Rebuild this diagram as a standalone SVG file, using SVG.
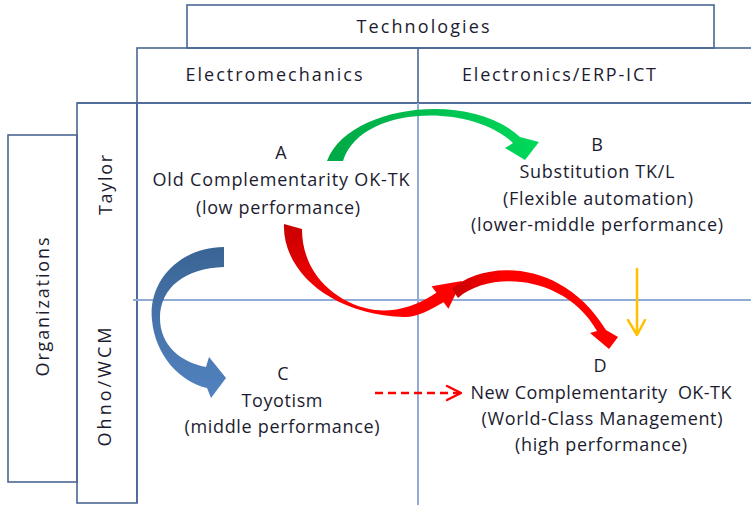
<svg xmlns="http://www.w3.org/2000/svg" width="751" height="505" viewBox="0 0 751 505">
  <style>
    .lbl { font-family: "Open Sans", "Liberation Sans", sans-serif; font-size: 18px; fill: #1c1c30; text-anchor: middle; }
    .box { fill: none; stroke: #4a6694; stroke-width: 1.6; }
    .grid { fill: none; stroke: #8fabd6; stroke-width: 2; }
  </style>
  <defs>
    <linearGradient id="gGreen" x1="0" y1="0" x2="1" y2="0">
      <stop offset="0" stop-color="#00a846"/>
      <stop offset="1" stop-color="#00d95a"/>
    </linearGradient>
    <linearGradient id="gBlue" x1="0" y1="0" x2="0" y2="1">
      <stop offset="0" stop-color="#3a6494"/>
      <stop offset="1" stop-color="#5283c0"/>
    </linearGradient>
    <linearGradient id="gRed1" x1="0" y1="0" x2="1" y2="1">
      <stop offset="0" stop-color="#c80000"/>
      <stop offset="0.6" stop-color="#ff0000"/>
    </linearGradient>
    <linearGradient id="gRed2" x1="0" y1="0" x2="1" y2="0">
      <stop offset="0" stop-color="#c80000"/>
      <stop offset="0.3" stop-color="#ff0000"/>
    </linearGradient>
  </defs>

  <!-- frame: header boxes, row/column boxes and quadrant dividers -->
  <g id="frame">
    <rect class="box" x="187" y="5" width="527" height="43"/>
    <rect class="box" x="137" y="48" width="640" height="55"/>
    <line class="box" x1="418" y1="48" x2="418" y2="103"/>
    <line class="box" x1="77" y1="103" x2="751" y2="103"/>
    <line class="box" x1="137" y1="103" x2="137" y2="503"/>
    <rect class="box" x="77" y="103" width="60" height="400"/>
    <rect class="box" x="8" y="135" width="69" height="347"/>
    <line class="grid" x1="418" y1="103" x2="418" y2="505"/>
    <line class="grid" x1="133" y1="300" x2="751" y2="300"/>
  </g>

  <!-- header labels -->
  <g id="technologies">
    <text class="lbl" x="423" y="33" textLength="133">Technologies</text>
  </g>
  <g id="electromechanics">
    <text class="lbl" x="274" y="81" textLength="177">Electromechanics</text>
  </g>
  <g id="electronics">
    <text class="lbl" x="559" y="81" textLength="194">Electronics/ERP-ICT</text>
  </g>
  <g id="organizations">
    <text class="lbl" transform="translate(43,307) rotate(-90)" x="0" y="6" textLength="139">Organizations</text>
  </g>
  <g id="taylor">
    <text class="lbl" transform="translate(106,185) rotate(-90)" x="0" y="6" textLength="60">Taylor</text>
  </g>
  <g id="ohno">
    <text class="lbl" transform="translate(105,387) rotate(-90)" x="0" y="6" textLength="119">Ohno/WCM</text>
  </g>

  <!-- quadrant nodes -->
  <g id="node-a">
    <text class="lbl" x="281" y="159">A</text>
    <text class="lbl" x="281" y="186" textLength="257">Old Complementarity OK-TK</text>
    <text class="lbl" x="278" y="214" textLength="164">(low performance)</text>
  </g>
  <g id="node-b">
    <text class="lbl" x="597" y="151">B</text>
    <text class="lbl" x="597" y="178" textLength="155">Substitution TK/L</text>
    <text class="lbl" x="598" y="205" textLength="190">(Flexible automation)</text>
    <text class="lbl" x="597" y="231" textLength="252">(lower-middle performance)</text>
  </g>
  <g id="node-c">
    <text class="lbl" x="283" y="380">C</text>
    <text class="lbl" x="282" y="407" textLength="81">Toyotism</text>
    <text class="lbl" x="282" y="433" textLength="195">(middle performance)</text>
  </g>
  <g id="node-d">
    <text class="lbl" x="600" y="372">D</text>
    <text class="lbl" x="601" y="399" textLength="261" xml:space="preserve">New Complementarity  OK-TK</text>
    <text class="lbl" x="602" y="425" textLength="241">(World-Class Management)</text>
    <text class="lbl" x="601" y="451" textLength="172">(high performance)</text>
  </g>

  <!-- connectors -->
  <g id="connectors">
    <!-- A to B -->
    <path fill="url(#gGreen)" d="M343,161 L327,161 C348,105 470,90 520,137 L539,142 L525,160 L505,148 L513,143 C470,102 360,106 343,161 Z"/>
    <!-- A to C -->
    <path fill="url(#gBlue)" d="M224,247 C175,248 148,285 152,320 C155,355 180,382 207,388 L211,398 L226,378 L209,357 L206,367 C180,362 160,345 160,318 C160,288 185,268 224,267 Z"/>
    <!-- A to D, first sweep -->
    <path fill="url(#gRed1)" d="M302,229 L284,224 C282,270 330,315 405,317 C418,317 430,310 443.6,302.3 L448.4,308.7 L462,281 L431.6,286.3 L436.4,292.7 C415,307 395,312 375,310 C340,305 302,277 302,229 Z"/>
    <!-- A to D, second sweep -->
    <path fill="url(#gRed2)" d="M458,298 L452,289 C480,262 560,255 606,330 L618,337 L609,349 L590,333 L597,331 C565,275 490,270 458,298 Z"/>
    <!-- B to D -->
    <g fill="none" stroke="#ffc000" stroke-width="2.5" stroke-linecap="round" stroke-linejoin="round">
      <line x1="637" y1="269" x2="637" y2="334"/>
      <polyline points="628,320 637,335 645,320"/>
    </g>
    <!-- C to D -->
    <g fill="none" stroke="#ff0000" stroke-width="2.5" stroke-linejoin="round">
      <line x1="375" y1="393" x2="459" y2="393" stroke-dasharray="8,5"/>
      <polyline points="447,386 461,393 447,400" stroke-linecap="round"/>
    </g>
  </g>
</svg>
